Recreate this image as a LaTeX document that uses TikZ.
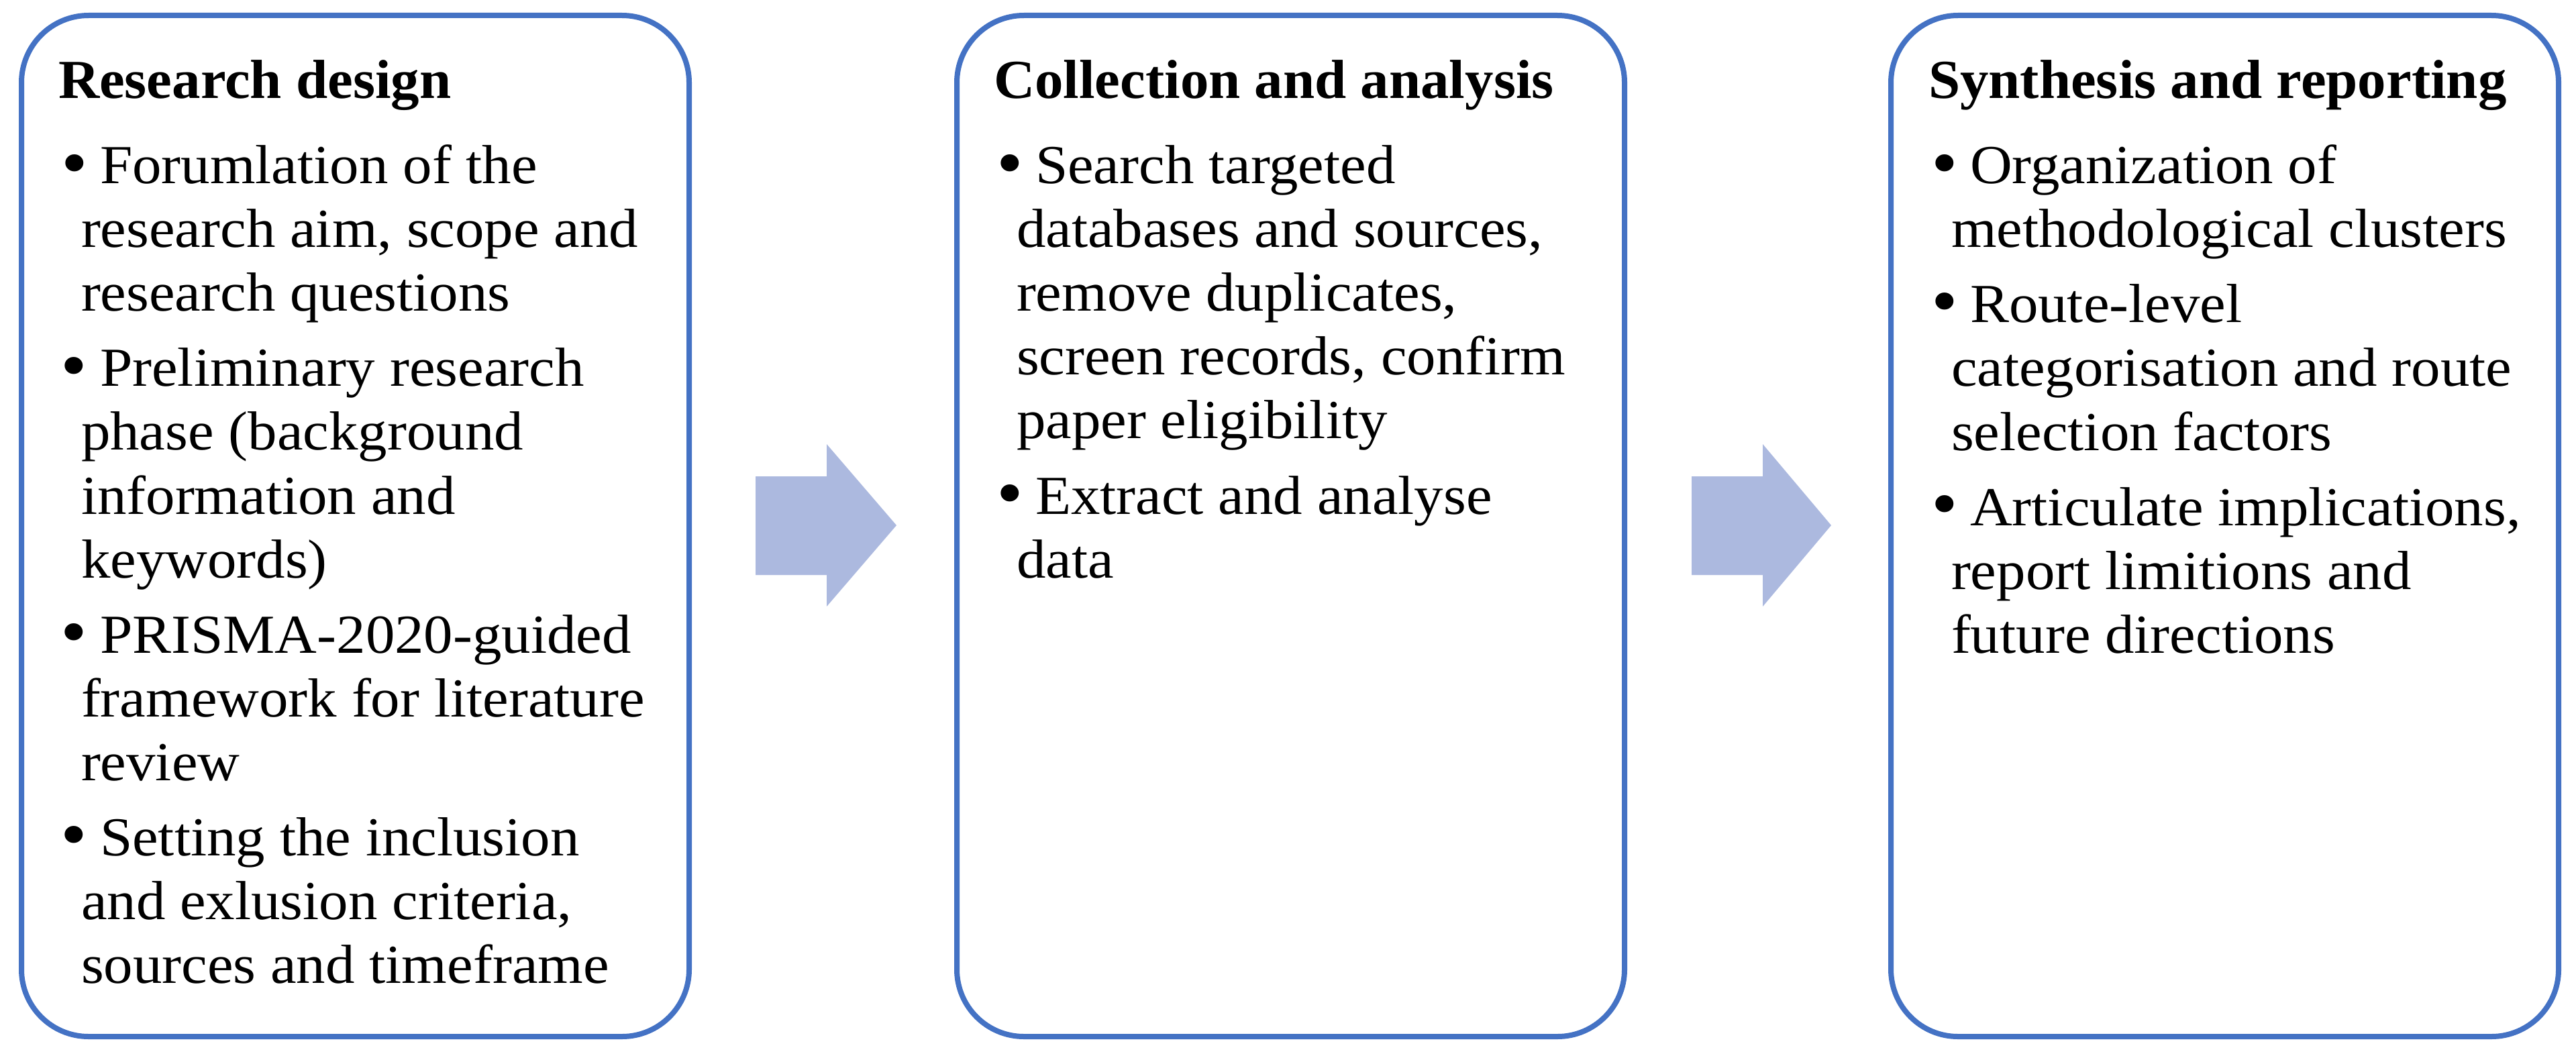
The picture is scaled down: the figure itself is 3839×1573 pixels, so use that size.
\documentclass[tikz,border=0pt]{standalone}
\usepackage{fontspec}
\setmainfont{Liberation Serif}[FakeStretch=1.06, BoldFeatures={FakeStretch=1.035}]
\definecolor{boxblue}{RGB}{68,114,196}
\definecolor{arrowfill}{RGB}{172,185,223}
\newcommand{\bul}{\hspace*{-7.5pt}\makebox[14.5pt][l]{\raisebox{-1pt}{\scalebox{1.3}{\textbullet}}}}
\newcommand{\ttl}[1]{\hspace*{-8.5pt}\textbf{#1}}
\newcommand{\boxtext}[1]{\parbox[t]{240pt}{\raggedright\fontsize{20.5pt}{23.75pt}\selectfont #1}}
\tikzset{
  stagebox/.style={draw=boxblue, line width=2pt, rounded corners=25pt, fill=white,
    minimum width=248.75pt, minimum height=380.5pt, inner sep=0pt},
  stagetext/.style={anchor=base west, inner sep=0pt, outer sep=0pt},
  blockarrow/.style={fill=arrowfill, draw=none}
}
\begin{document}
\begin{tikzpicture}[x=0.25pt, y=-0.25pt]
\useasboundingbox (0,0) rectangle (3839,1573);
\node[stagebox] (b1) at (529.5,784) {};
\node[stagebox] (b2) at (1923.5,784) {};
\node[stagebox] (b3) at (3315.5,784) {};
\node[stagetext] (t1) at (121,147) {\boxtext{%
\ttl{Research design}\\[8pt]
\bul Forumlation of the\\
research aim, scope and\\
research questions\\[4.25pt]
\bul Preliminary research\\
phase (background\\
information and\\
keywords)\\[4.25pt]
\bul PRISMA-2020-guided\\
framework for literature\\
review\\[4.25pt]
\bul Setting the inclusion\\
and exlusion criteria,\\
sources and timeframe}};
\node[stagetext] (t2) at (1515,147) {\boxtext{%
\ttl{Collection and analysis}\\[8pt]
\bul Search targeted\\
databases and sources,\\
remove duplicates,\\
screen records, confirm\\
paper eligibility\\[4.25pt]
\bul Extract and analyse\\
data}};
\node[stagetext] (t3) at (2908,147) {\boxtext{%
\ttl{Synthesis and reporting}\\[8pt]
\bul Organization of\\
methodological clusters\\[4.25pt]
\bul Route-level\\
categorisation and route\\
selection factors\\[4.25pt]
\bul Articulate implications,\\
report limitions and\\
future directions}};
\fill[blockarrow] (1126,710) -- (1232,710) -- (1232,662) -- (1336,783) -- (1232,904) -- (1232,857) -- (1126,857) -- cycle;
\fill[blockarrow] (2521,710) -- (2627,710) -- (2627,662) -- (2729,783) -- (2627,904) -- (2627,857) -- (2521,857) -- cycle;
\end{tikzpicture}
\end{document}
